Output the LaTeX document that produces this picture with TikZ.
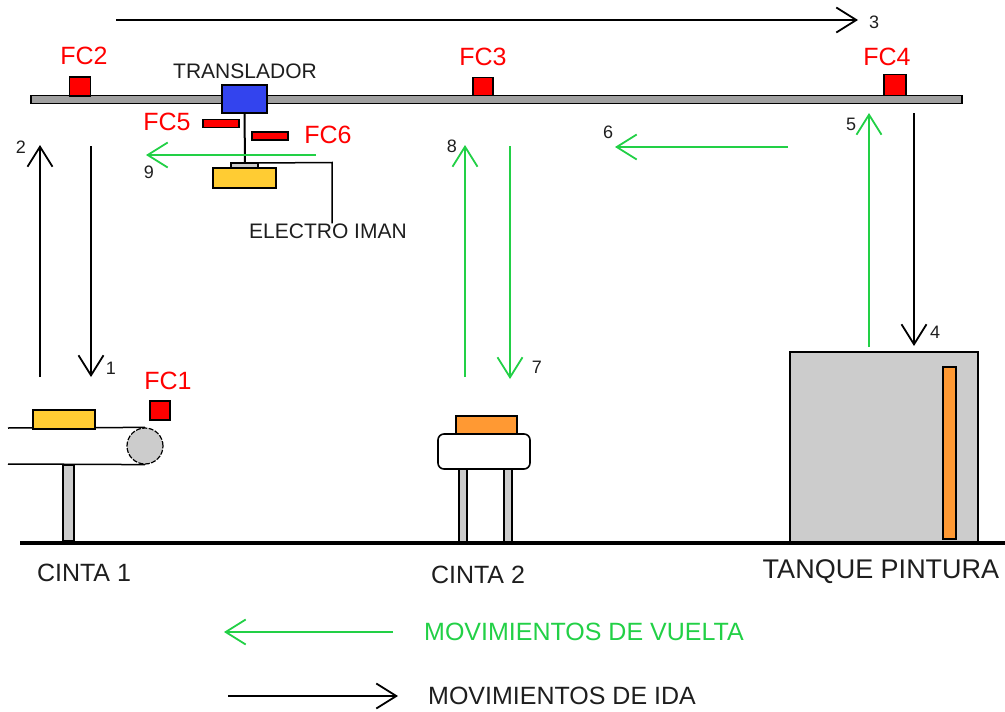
\documentclass[tikz,border=0pt]{standalone}
\usepackage{fontspec}
\setmainfont{Liberation Sans}
\usetikzlibrary{arrows.meta}
\definecolor{mvgreen}{RGB}{34,208,70}
\definecolor{fcred}{RGB}{255,0,0}
\definecolor{railgray}{RGB}{160,160,160}
\definecolor{partgray}{RGB}{204,204,204}
\definecolor{tblue}{RGB}{51,68,238}
\definecolor{pyellow}{RGB}{255,204,51}
\definecolor{porange}{RGB}{255,153,51}
\definecolor{inkgray}{RGB}{30,30,30}
\begin{document}
\begin{tikzpicture}[x=1pt,y=-1pt,
  box/.style={draw=black, line width=1.6pt, inner sep=0pt, outer sep=0pt},
  ida/.style={draw=black, line width=1.8pt, -{Straight Barb[length=20pt,width=25pt,line width=1.8pt]}},
  vuelta/.style={draw=mvgreen, line width=1.8pt, -{Straight Barb[length=20pt,width=25pt,line width=1.8pt]}},
  fc/.style={text=fcred, inner sep=0pt, font=\fontsize{25}{28}\selectfont},
  lbl/.style={text=inkgray, inner sep=0pt, font=\fontsize{21}{24}\selectfont},
  num/.style={text=inkgray, inner sep=0pt, font=\fontsize{18}{20}\selectfont},
  title/.style={text=inkgray, inner sep=0pt, font=\fontsize{25}{28}\selectfont}]

\useasboundingbox (0,0) rectangle (1005,712);

% overhead rail with limit switches
\node[box, fill=railgray, minimum width=931pt, minimum height=8pt] (rail) at (496.5,99.5) {};
\node[box, fill=red, minimum width=21pt, minimum height=19pt] (fc2box) at (80,86.5) {};
\node[box, fill=red, minimum width=20pt, minimum height=18pt] (fc3box) at (483,86.5) {};
\node[box, fill=red, minimum width=22pt, minimum height=21pt] (fc4box) at (895,85) {};
\node[fc] (fc2) at (84,56) {FC2};
\node[fc] (fc3) at (483,57) {FC3};
\node[fc] (fc4) at (887,57) {FC4};

% carriage (translador) with electromagnet
\node[box, fill=tblue, minimum width=45pt, minimum height=28pt] (trans) at (244.5,99) {};
\node[lbl] (translbl) at (245,71) {TRANSLADOR};
\coordinate (rodend) at (245,163);
\draw[line width=2pt] (trans.south) -- (rodend);
\node[box, fill=pyellow, minimum width=63pt, minimum height=20pt] (magnet) at (244.5,178) {};
\node[box, fill=partgray, minimum width=27pt, minimum height=5pt] (plate) at (244.5,165.5) {};
\node[box, fill=red, minimum width=36pt, minimum height=8pt] (fc5box) at (221,123.5) {};
\node[box, fill=red, minimum width=36pt, minimum height=8pt] (fc6box) at (270,136) {};
\node[fc] (fc5) at (167,122) {FC5};
\node[fc] (fc6) at (328,135) {FC6};
\node[lbl] (imanlbl) at (328,231) {ELECTRO IMAN};
\draw[line width=1.5pt] (plate.north east) -- (332,162.5) -- (imanlbl.north -| 332,0);

% conveyor 1
\node[circle, draw=black, line width=1.2pt, dash pattern=on 5pt off 1.5pt, fill=partgray, minimum size=36pt, inner sep=0pt] (roller) at (145,446) {};
\coordinate (belttop) at (8,428);
\coordinate (beltbot) at (8,464);
\draw[line width=1.5pt] (belttop) -- (roller.north);
\draw[line width=1.5pt] (beltbot) -- (roller.south);
\node[box, fill=pyellow, minimum width=62pt, minimum height=19pt] (piece1) at (64,419.5) {};
\node[box, fill=partgray, minimum width=11pt, minimum height=76pt] (leg1) at (68.5,503) {};
\node[box, fill=red, minimum width=20pt, minimum height=19pt] (fc1box) at (160,410.5) {};
\node[fc] (fc1) at (168,381) {FC1};

% conveyor 2
\node[box, fill=partgray, minimum width=8pt, minimum height=74pt] (leg2a) at (463,505) {};
\node[box, fill=partgray, minimum width=8pt, minimum height=74pt] (leg2b) at (508,505) {};
\node[box, fill=white, rounded corners=6pt, minimum width=92pt, minimum height=35pt] (table2) at (484,451.5) {};
\node[box, fill=porange, minimum width=61pt, minimum height=18pt] (piece2) at (486.5,425) {};

% paint tank
\node[box, fill=partgray, minimum width=188pt, minimum height=191pt] (tank) at (884,447.5) {};
\node[box, fill=porange, minimum width=13pt, minimum height=172pt] (piece3) at (949.5,453) {};

% floor
\draw[line width=3.5pt] (20,543) -- (1005,543);

\node[title] (cinta1) at (84,573) {CINTA 1};
\node[title] (cinta2) at (478,575) {CINTA 2};
\node[title, font=\fontsize{27}{30}\selectfont] (tanque) at (881,572) {TANQUE PINTURA};

% forward movements
\coordinate (a3s) at (116,20);  \coordinate (a3e) at (858,20);
\coordinate (a1s) at (91,146);  \coordinate (a1e) at (91,377);
\coordinate (a2s) at (40,377);  \coordinate (a2e) at (40,145);
\coordinate (a4s) at (914,113); \coordinate (a4e) at (914,346);
\draw[ida] (a3s) -- (a3e);
\draw[ida] (a1s) -- (a1e);
\draw[ida] (a2s) -- (a2e);
\draw[ida] (a4s) -- (a4e);

% return movements
\coordinate (a5s) at (869,347); \coordinate (a5e) at (869,113);
\coordinate (a6s) at (788,147); \coordinate (a6e) at (615,147);
\coordinate (a7s) at (510,146); \coordinate (a7e) at (510,379);
\coordinate (a8s) at (465,377); \coordinate (a8e) at (465,145);
\coordinate (a9s) at (316,155); \coordinate (a9e) at (146,155);
\draw[vuelta] (a5s) -- (a5e);
\draw[vuelta] (a6s) -- (a6e);
\draw[vuelta] (a7s) -- (a7e);
\draw[vuelta] (a8s) -- (a8e);
\draw[vuelta] (a9s) -- (a9e);

% step numbers
\node[num] (n1) at (111,368) {1};
\node[num] (n2) at (21,147) {2};
\node[num] (n3) at (874,22) {3};
\node[num] (n4) at (935,332) {4};
\node[num] (n5) at (851,124) {5};
\node[num] (n6) at (608,132) {6};
\node[num] (n7) at (537,367) {7};
\node[num] (n8) at (452,146) {8};
\node[num] (n9) at (149,172) {9};

% legend
\coordinate (lgs) at (393,632); \coordinate (lge) at (224,632);
\coordinate (lis) at (228,696); \coordinate (lie) at (398,696);
\draw[vuelta] (lgs) -- (lge);
\draw[ida] (lis) -- (lie);
\node[title, text=mvgreen, anchor=west] (lgv) at (424,632) {MOVIMIENTOS DE VUELTA};
\node[title, anchor=west] (lgi) at (428,696) {MOVIMIENTOS DE IDA};
\end{tikzpicture}
\end{document}
